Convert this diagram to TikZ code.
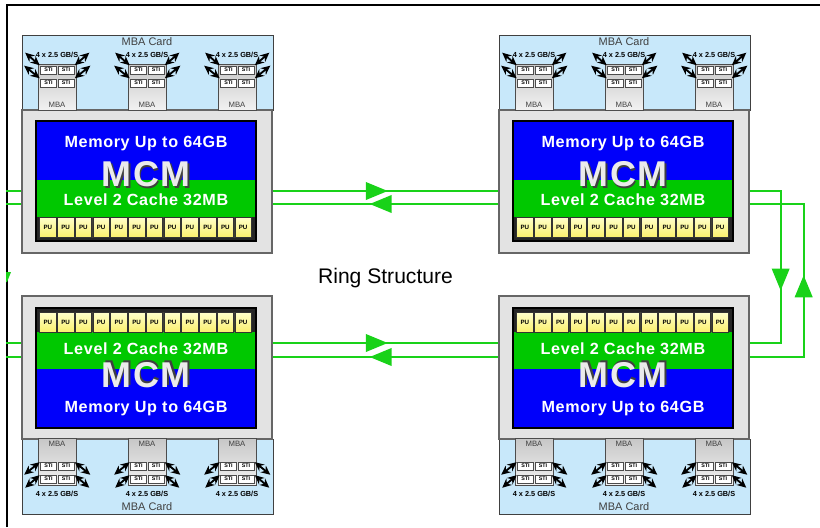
\documentclass[tikz,border=0pt]{standalone}
\usepackage{fontspec}
\setmainfont{Liberation Sans}
\usepackage{tikz}
\usetikzlibrary{arrows.meta, positioning, calc, decorations.markings}

\definecolor{cardblue}{RGB}{200,232,250}
\definecolor{mcmblue}{RGB}{0,0,250}
\definecolor{cachegreen}{RGB}{0,200,0}
\definecolor{ringgreen}{RGB}{25,210,25}
\definecolor{pugold}{RGB}{250,240,110}

\begin{document}
\begin{tikzpicture}[x=0.025cm,y=-0.025cm,
    card/.style={draw=black!75,fill=cardblue,line width=0.6pt},
    housing/.style={draw=black!60,fill=black!11,line width=0.9pt,
      minimum width=6.25cm,minimum height=3.575cm,inner sep=0pt},
    mbabox/.style={draw=black!70,line width=0.5pt,top color=black!22,bottom color=black!5},
    sticell/.style={draw=black!70,fill=white,line width=0.4pt,inner sep=0pt,
      minimum width=0.4cm,minimum height=0.2cm,font=\bfseries\fontsize{3.8}{4}\selectfont},
    pucell/.style={draw=black!80,line width=0.4pt,inner sep=0pt,top color=yellow!20,
      bottom color=pugold,minimum width=0.41cm,minimum height=0.5cm,
      font=\bfseries\fontsize{4.4}{5}\selectfont},
    link/.style={{Stealth[length=6.5pt,width=6pt]}-{Stealth[length=6.5pt,width=6pt]},
      line width=1.3pt,shorten <=0.5pt},
    smalltxt/.style={inner sep=0pt,text=black!75},
    bigtxt/.style={text=white,inner sep=0pt,text height=8.2pt,text depth=0pt,
      font=\bfseries\fontsize{11.5}{12}\selectfont\addfontfeature{LetterSpace=4}},
    mcmtxt/.style={inner sep=0pt,text height=17.9pt,text depth=0pt,
      font=\bfseries\fontsize{25.5}{26}\selectfont\addfontfeature{LetterSpace=5}},
    ring/.style={draw=ringgreen,color=ringgreen,line width=1.4pt},
    mid/.style={postaction={decorate},decoration={markings,
      mark=at position #1 with {\arrow{Triangle[length=0.55cm,width=0.44cm]}}}}
  ]
  \useasboundingbox (0,0) rectangle (820,527);
  \draw[line width=0.8pt] (7,527) |- (820,5);

  % four MCM boards, the lower row mirrored
  \foreach \X/\s/\n in {22/1/h1, 499/1/h2, 22/-1/h3, 499/-1/h4}{
    \begin{scope}[shift={(0,{274.5*(1-\s)})},yscale=\s]
      \draw[card] (\X,35) rectangle ++(251,75);
      \node[smalltxt,font=\fontsize{7.8}{8}\selectfont] (\n-card) at (\X+125,42) {MBA Card};
      \node[housing] (\n) at (\X+125,181.5) {};
      \foreach \m in {35,125,215}{
        \draw[mbabox] (\X+\m-19,64) rectangle (\X+\m+19,110.5);
        \node[smalltxt,font=\fontsize{5.5}{6}\selectfont] (\n-mba\m) at (\X+\m,105) {MBA};
        \node[smalltxt,text=black,font=\bfseries\fontsize{5.2}{6}\selectfont] (\n-gb\m)
          at (\X+\m,55) {4 x 2.5 GB/S};
        \foreach \i in {0,1}
          \foreach \j in {0,1}
            \node[sticell] (\n-sti\m-\i\j) at (\X+\m-8.5+\i*17.5,70+\j*13) {STI};
        \draw[link] (\n-sti\m-00.north west) -- ++(-15,-13);
        \draw[link] (\n-sti\m-01.north west) -- ++(-16,-13);
        \draw[link] (\n-sti\m-10.north east) -- ++(15,-13);
        \draw[link] (\n-sti\m-11.north east) -- ++(16,-13);
      }
      \fill[mcmblue] (\X+14,121) rectangle (\X+234,180);
      \fill[cachegreen] (\X+14,180) rectangle (\X+234,217);
      \fill[black!85] (\X+14,217) rectangle (\X+234,241);
      \foreach \k in {0,...,11}
        \node[pucell] (\n-pu\k) at (\X+25.9+\k*17.75,227) {PU};
      \draw[black,line width=1.6pt] (\X+14,121) rectangle (\X+234,241);
      \node[bigtxt] (\n-mem) at (\X+124,142) {Memory Up to 64GB};
      \node[mcmtxt,text=black!75,xshift=1.3pt,yshift={\s*(-1.3pt)}] (\n-mcms)
        at (\X+124,174) {MCM};
      \node[mcmtxt,text=black!8] (\n-mcm) at (\X+124,174) {MCM};
      \node[bigtxt] (\n-l2) at (\X+124,200) {Level 2 Cache 32MB};
    \end{scope}
  }

  \node[anchor=base,font=\fontsize{15}{16}\selectfont] (ring) at (385.5,283) {Ring Structure};

  % ring links
  \draw[ring,mid=0.51] ($(h1.east)+(0,9.5)$) -- ($(h2.west)+(0,9.5)$);
  \draw[ring,mid=0.57] ($(h2.west)+(0,22.5)$) -- ($(h1.east)+(0,22.5)$);
  \draw[ring,mid=0.51] ($(h3.east)+(0,-24.5)$) -- ($(h4.west)+(0,-24.5)$);
  \draw[ring,mid=0.57] ($(h4.west)+(0,-10.5)$) -- ($(h3.east)+(0,-10.5)$);
  \draw[ring,mid=0.61] ($(h2.east)+(0,9.5)$) -- ++(31,0) |- ($(h4.east)+(0,-24.5)$);
  \draw[ring,mid=0.52] ($(h4.east)+(0,-10.5)$) -- ++(54,0) |- ($(h2.east)+(0,22.5)$);
  \draw[ring] ($(h1.west)+(0,9.5)$) -- ++(-15,0);
  \draw[ring] ($(h1.west)+(0,22.5)$) -- ++(-15,0);
  \draw[ring] ($(h3.west)+(0,-24.5)$) -- ++(-15,0);
  \draw[ring] ($(h3.west)+(0,-10.5)$) -- ++(-15,0);
  \fill[ringgreen] (6,272) -- (11,272) -- (7,282) -- (6,282) -- cycle;
\end{tikzpicture}
\end{document}
